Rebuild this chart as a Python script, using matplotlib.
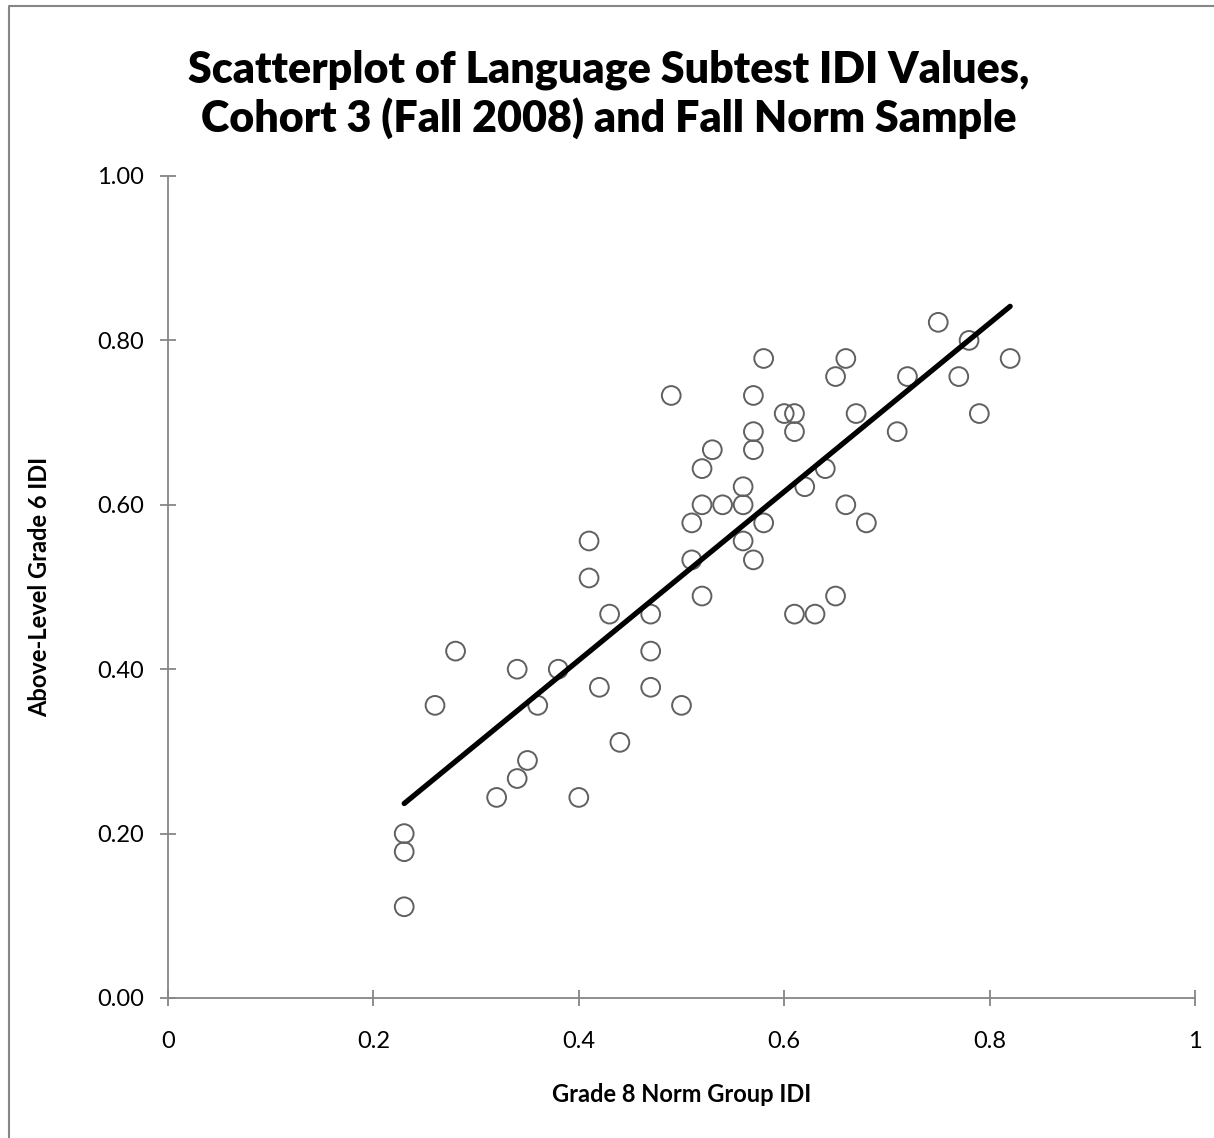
import numpy as np
import matplotlib
matplotlib.use('Agg')
import matplotlib.pyplot as plt
from matplotlib.lines import Line2D

# Grade 8 norm group IDI (x) and above-level grade 6 IDI (y)
norm_idi = [0.23, 0.23, 0.23, 0.26, 0.28, 0.32, 0.34, 0.34, 0.35, 0.36,
            0.38, 0.40, 0.41, 0.41, 0.42, 0.43, 0.44, 0.47, 0.47, 0.47,
            0.49, 0.50, 0.51, 0.51, 0.52, 0.52, 0.52, 0.53, 0.54, 0.56,
            0.56, 0.56, 0.57, 0.57, 0.57, 0.57, 0.58, 0.58, 0.60, 0.61,
            0.61, 0.61, 0.62, 0.63, 0.64, 0.65, 0.65, 0.66, 0.66, 0.67,
            0.68, 0.71, 0.72, 0.75, 0.77, 0.78, 0.79, 0.82]
grade6_idi = [0.111, 0.178, 0.200, 0.356, 0.422, 0.244, 0.267, 0.400, 0.289, 0.356,
              0.400, 0.244, 0.556, 0.511, 0.378, 0.467, 0.311, 0.467, 0.422, 0.378,
              0.733, 0.356, 0.578, 0.533, 0.644, 0.600, 0.489, 0.667, 0.600, 0.622,
              0.600, 0.556, 0.733, 0.689, 0.667, 0.533, 0.778, 0.578, 0.711, 0.711,
              0.689, 0.467, 0.622, 0.467, 0.644, 0.756, 0.489, 0.778, 0.600, 0.711,
              0.578, 0.689, 0.756, 0.822, 0.756, 0.800, 0.711, 0.778]

x_ticks = [0, 0.2, 0.4, 0.6, 0.8, 1]
x_labels = ['0', '0.2', '0.4', '0.6', '0.8', '1']
y_ticks = [0, 0.2, 0.4, 0.6, 0.8, 1.0]
y_labels = ['0.00', '0.20', '0.40', '0.60', '0.80', '1.00']

plt.rcParams['font.family'] = ['Lato', 'DejaVu Sans']
grey = '#868686'

fig = plt.figure(figsize=(12.14, 11.38), dpi=100)
# chart frame: only left and top edges are visible in the picture
fig.lines.append(Line2D([9/1214, 9/1214, 1], [0, 1 - 6/1138, 1 - 6/1138],
                        transform=fig.transFigure, color=grey, linewidth=1.5))
ax = fig.add_axes([168/1214, 1 - 998/1138, (1195 - 168)/1214, (998 - 176)/1138])

ax.scatter(norm_idi, grade6_idi, s=13.5**2, facecolors='none', edgecolors='#606060',
           linewidths=1.4, zorder=2)

# linear trendline
coef = np.polyfit(norm_idi, grade6_idi, 1)
xs = np.array([min(norm_idi), max(norm_idi)])
ax.plot(xs, np.polyval(coef, xs), color='black', linewidth=3.8, solid_capstyle='round', zorder=3)

ax.set_xlim(0, 1)
ax.set_ylim(0, 1)
ax.set_xticks(x_ticks)
ax.set_xticklabels(x_labels)
ax.set_yticks(y_ticks)
ax.set_yticklabels(y_labels)
for s in ['top', 'right']:
    ax.spines[s].set_visible(False)
for s in ['left', 'bottom']:
    ax.spines[s].set_color(grey)
    ax.spines[s].set_linewidth(1.3)
ax.tick_params(direction='inout', length=12, width=1.3, color=grey, labelsize=17)
ax.tick_params(axis='y', pad=11)
ax.tick_params(axis='x', pad=18)

ax.set_xlabel('Grade 8 Norm Group IDI', fontsize=17, fontweight='bold')
ax.xaxis.set_label_coords(0.5, -(1095 - 998)/822)
ax.set_ylabel('Above-Level Grade 6 IDI', fontsize=17, fontweight='bold')
ax.yaxis.set_label_coords(-(168 - 40)/1027, 0.5)
ax.xaxis.label.set_va('center')
ax.yaxis.label.set_va('center')
fig.text(609/1214, 1 - 94/1138, 'Scatterplot of Language Subtest IDI Values,\nCohort 3 (Fall 2008) and Fall Norm Sample',
         ha='center', va='center', fontsize=31, fontweight='heavy', linespacing=1.2)

fig.savefig('out.png', dpi=100)
